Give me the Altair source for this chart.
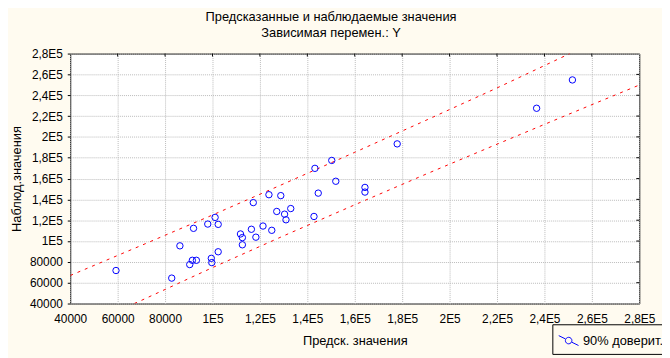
import json
import altair as alt
import pandas as pd

# ---- data ----
pred = [59300, 82800, 86250, 90400, 91500, 93200, 92000, 98000, 101100, 102400,
        99500, 99700, 102400, 111800, 112600, 112600, 116400, 118300, 117200, 121300,
        125000, 123800, 128800, 127100, 130400, 131000, 133000, 142800, 143200, 144600,
        150300, 152000, 164300, 164300, 177900, 236700, 251800]
obs = [71700, 64400, 95400, 77400, 81500, 81500, 112200, 116300, 122700, 116000,
       83400, 79300, 89700, 106800, 103300, 96400, 111300, 103700, 136900, 114400,
       110300, 144500, 143600, 128400, 125800, 120400, 131200, 123600, 169800, 146000,
       177400, 157400, 151500, 147000, 193300, 227500, 254700]

upper_x = [40000, 70000, 100000, 130000, 160000, 190000, 220000, 250700]
upper_y = [66900, 95800, 125000, 154900, 185200, 215900, 247000, 280000]
lower_x = [67000, 70000, 100000, 130000, 160000, 190000, 220000, 250000, 280000]
lower_y = [40000, 43000, 74500, 105000, 134800, 164200, 193000, 221500, 249800]

tick_values = [40000, 60000, 80000, 100000, 120000, 140000, 160000, 180000,
               200000, 220000, 240000, 260000, 280000]
tick_labels = ["40000", "60000", "80000", "1E5", "1,2E5", "1,4E5", "1,6E5", "1,8E5",
               "2E5", "2,2E5", "2,4E5", "2,6E5", "2,8E5"]

title_text = "Предсказанные и наблюдаемые значения"
subtitle_text = "Зависимая перемен.: Y"
x_title = "Предск. значения"
y_title = "Наблюд.значения"
legend_label = "90% доверит."

FONT = "Liberation Sans"
W, H = 576, 253

pts = pd.DataFrame({"x": pred, "y": obs, "s": [legend_label] * len(pred)})
bands = pd.concat([
    pd.DataFrame({"x": upper_x, "y": upper_y, "band": "upper"}),
    pd.DataFrame({"x": lower_x, "y": lower_y, "band": "lower"}),
])
ticks_df = pd.DataFrame({"x": tick_values[1:-1], "y": tick_values[1:-1]})

label_expr = f"{json.dumps(tick_labels)}[indexof({json.dumps(tick_values)}, datum.value)]"

xscale = alt.Scale(domain=[40000, 280000], nice=False, zero=False)
yscale = alt.Scale(domain=[40000, 280000], nice=False, zero=False)

xaxis = alt.Axis(values=tick_values, labelExpr=label_expr, title=x_title,
                 grid=True, ticks=False, labelPadding=10, titlePadding=10,
                 labelFlush=False, labelOverlap=False, domain=False)
yaxis = alt.Axis(values=tick_values, labelExpr=label_expr, title=y_title,
                 grid=True, ticks=True, tickSize=3, tickColor="black",
                 labelPadding=5, titlePadding=6,
                 labelFlush=False, labelOverlap=False, domain=False)

X = alt.X("x:Q", scale=xscale, axis=xaxis)
Y = alt.Y("y:Q", scale=yscale, axis=yaxis)

band_layer = alt.Chart(bands).mark_line(
    color="#FF0000", strokeWidth=1, strokeDash=[3, 5], clip=True
).encode(x=X, y=Y, detail="band:N")

legend_symbol = ("M-1,-0.5L-0.33,-0.17 M0.33,0.17L1,0.5 "
                 "M0.33,0A0.33,0.33,0,1,1,-0.33,0A0.33,0.33,0,1,1,0.33,0")

point_layer = alt.Chart(pts).mark_point(
    filled=False, shape="circle", size=42, strokeWidth=1, opacity=1
).encode(
    x=X, y=Y,
    color=alt.Color("s:N", scale=alt.Scale(range=["#0000FF"]),
                    legend=alt.Legend(
                        title=None, orient="none", legendX=488, legendY=274,
                        symbolType=legend_symbol, symbolSize=400,
                        symbolStrokeWidth=1, symbolFillColor="transparent",
                        labelFont=FONT, labelFontSize=13, labelColor="black",
                        labelOffset=4, padding=6, strokeColor="black",
                        fillColor="#FFFBF0", cornerRadius=0)),
)

top_ticks = alt.Chart(ticks_df).mark_rule(color="black", strokeWidth=1).encode(
    x=X, y=alt.value(0), y2=alt.value(3))
right_ticks = alt.Chart(ticks_df).mark_rule(color="black", strokeWidth=1).encode(
    y=Y, x=alt.value(W - 3), x2=alt.value(W))

chart = alt.layer(band_layer, point_layer, top_ticks, right_ticks).properties(
    width=W, height=H,
    title=alt.TitleParams(text=title_text, subtitle=subtitle_text, anchor="middle",
                          dx=-24, font=FONT, fontSize=13, fontWeight="normal",
                          color="black", subtitleFont=FONT, subtitleFontSize=13,
                          subtitleColor="black", subtitlePadding=3, offset=8),
    autosize=alt.AutoSizeParams(type="none"),
    padding={"left": 63, "top": 44, "right": 23, "bottom": 53},
    background="#FFFBF0",
).configure_view(
    stroke="black", strokeWidth=1, fill="white"
).configure_axis(
    labelFont=FONT, labelFontSize=12, labelColor="black",
    titleFont=FONT, titleFontSize=13, titleFontWeight="normal", titleColor="black",
    gridColor="#BBBBBB", gridDash=[1, 1], gridWidth=1, gridOpacity=1,
)

chart.save("out.html", embed_options={"renderer": "svg", "actions": False})
